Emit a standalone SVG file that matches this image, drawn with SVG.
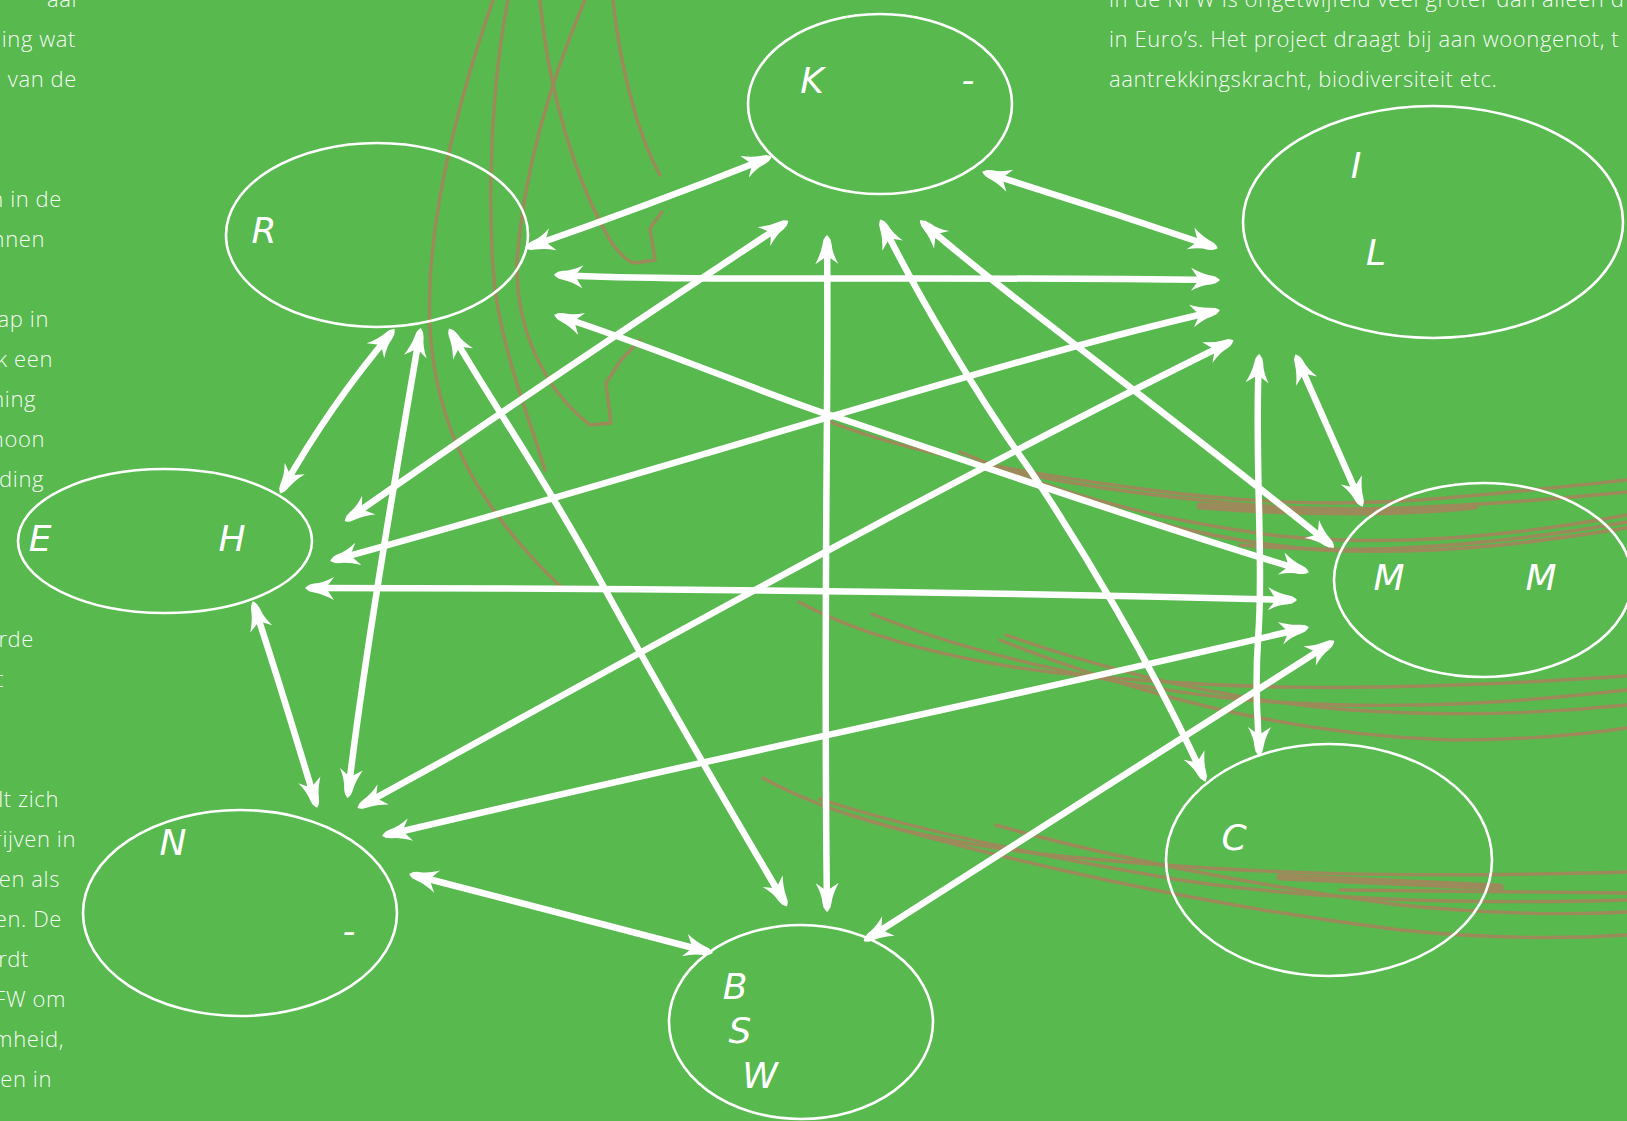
<svg xmlns="http://www.w3.org/2000/svg" width="1627" height="1121" viewBox="0 0 1627 1121">
<defs>
<style>
.bgl{fill:none;stroke:#9d8a5a;stroke-width:3.4;stroke-linecap:round;stroke-linejoin:round}
.thk{stroke-width:7}
.node{fill:none;stroke:#fff;stroke-width:2.6}
.lbl{font-family:"DejaVu Sans","Liberation Sans",sans-serif;font-style:oblique;font-weight:200;font-size:36px;fill:#fff;text-anchor:middle}
.body{font-family:"Open Sans","Noto Sans",sans-serif;font-weight:350;font-size:22px;letter-spacing:0.6px;fill:#fff;fill-opacity:.96}
.e{text-anchor:end}
.conn{fill:none;stroke:#fff;stroke-width:6.5;stroke-linecap:butt;stroke-linejoin:round;marker-start:url(#ah);marker-end:url(#ah)}
</style>
<marker id="ah" markerUnits="userSpaceOnUse" viewBox="-28 -13 32 26" markerWidth="32" markerHeight="26" refX="0" refY="0" orient="auto-start-reverse">
<path d="M4,0 Q1,-3.5 -5,-4.5 Q-14,-6 -25,-12 L-17,0 L-25,11 Q-14,5 -5,4.5 Q1,3.5 4,0 Z" fill="#fff"/>
</marker>
</defs>
<rect width="1627" height="1121" fill="#58b94f"/>

<g id="background-lines">
<path class="bgl" d="M493,0 C455,110 425,230 430,330 C436,420 470,500 560,586"/>
<path class="bgl" d="M508,0 C492,80 486,200 495,290 C505,360 530,420 545,470"/>
<path class="bgl" d="M540,0 C548,90 575,180 610,240 C620,255 628,262 635,263 L655,260 L650,228 L662,212"/>
<path class="bgl" d="M585,0 C555,70 525,160 517,260 C515,330 545,390 590,425 L611,423 L606,383 L621,360 L640,340"/>
<path class="bgl" d="M613,0 C620,70 640,140 660,175"/>

<path class="bgl" d="M825,420 C900,450 1000,470 1150,490 C1250,503 1330,506 1420,500 C1500,494 1570,486 1627,480"/>
<path class="bgl" d="M900,440 C980,468 1080,488 1200,500 C1300,512 1400,514 1627,492"/>
<path class="bgl thk" d="M1200,506 C1300,514 1400,514 1475,506"/>
<path class="bgl" d="M960,452 C1050,490 1150,520 1280,536 C1400,548 1520,535 1627,515"/>
<path class="bgl" d="M1000,470 C1100,510 1200,540 1320,550 C1450,556 1550,540 1627,528"/>
<path class="bgl" d="M1240,545 C1350,555 1480,548 1627,522"/>

<path class="bgl" d="M799,602 C860,635 950,660 1050,672 C1200,688 1350,695 1627,676"/>
<path class="bgl" d="M872,614 C960,650 1100,685 1245,700 C1400,712 1520,702 1627,690"/>
<path class="bgl" d="M1006,635 C1100,668 1220,700 1350,710 C1470,718 1560,712 1627,705"/>
<path class="bgl" d="M1000,640 C1150,700 1300,735 1450,740 C1530,740 1580,735 1627,728"/>

<path class="bgl" d="M763,778 C830,815 920,840 1050,855 C1200,870 1350,880 1627,872"/>
<path class="bgl" d="M820,799 C920,832 1050,858 1180,880 C1300,898 1450,905 1627,900"/>
<path class="bgl" d="M996,825 C1100,855 1250,885 1400,905 C1500,915 1570,915 1627,912"/>
<path class="bgl" d="M850,815 C1000,860 1200,905 1400,930 C1500,940 1580,938 1627,935"/>
<path class="bgl thk" d="M1280,877 C1380,882 1450,885 1500,887"/>
<path class="bgl" d="M1340,890 L1627,893" stroke-width="5"/>
</g>

<g id="text-left" class="body e">
<text x="77" y="7">aal</text>
<text x="76" y="47">ing wat</text>
<text x="77" y="87">van de</text>
<text x="62" y="207">n in de</text>
<text x="45" y="247">nnen</text>
<text x="49" y="327">ap in</text>
<text x="53" y="367">k een</text>
<text x="36" y="407">ning</text>
<text x="45" y="447">hoon</text>
<text x="44" y="487">ding</text>
<text x="34" y="647">rde</text>
<text x="4" y="687">t</text>
<text x="59" y="807">lt zich</text>
<text x="76" y="847">rijven in</text>
<text x="60" y="887">en als</text>
<text x="62" y="927">en. De</text>
<text x="29" y="967">rdt</text>
<text x="66" y="1007">FW om</text>
<text x="64" y="1047">mheid,</text>
<text x="52" y="1087">en in</text>
</g>

<g id="text-right" class="body">
<text x="1109" y="7">in de NFW is ongetwijfeld veel groter dan alleen d</text>
<text x="1109" y="47">in Euro’s. Het project draagt bij aan woongenot, t</text>
<text x="1109" y="87">aantrekkingskracht, biodiversiteit etc.</text>
</g>

<g id="connectors">
<path class="conn" d="M529,247 Q650,205 768,158"/>
<path class="conn" d="M986,173 Q1100,208 1214,247"/>
<path class="conn" d="M392,332 Q330,405 282,490"/>
<path class="conn" d="M254,605 Q285,700 316,804"/>
<path class="conn" d="M413,875 Q560,913 709,952"/>
<path class="conn" d="M867,939 Q1100,790 1331,643"/>
<path class="conn" d="M1297,358 L1361,503"/>
<path class="conn" d="M1259,358 C1254,450 1264,560 1258,640 C1254,700 1259,730 1259,752"/>
<path class="conn" d="M827,239 C829,400 823,600 827,908"/>
<path class="conn" d="M451,332 C490,400 540,470 600,580 S730,810 785,903"/>
<path class="conn" d="M420,332 C400,450 365,650 348,794"/>
<path class="conn" d="M882,223 C920,300 980,400 1030,470 C1080,545 1150,660 1204,778"/>
<path class="conn" d="M923,223 C1000,290 1150,400 1331,545"/>
<path class="conn" d="M558,275 C700,282 900,276 1216,280"/>
<path class="conn" d="M558,316 C650,345 780,400 830,415 C950,455 1150,525 1305,571"/>
<path class="conn" d="M785,223 C700,280 560,370 348,519"/>
<path class="conn" d="M1216,311 C1000,360 700,460 334,560"/>
<path class="conn" d="M309,588 C600,588 900,590 1293,600"/>
<path class="conn" d="M361,806 C700,620 950,480 1230,342"/>
<path class="conn" d="M386,835 C700,760 1000,700 1305,628"/>
</g>

<g id="node-K">
<ellipse class="node" cx="880" cy="104" rx="132" ry="90"/>
<text class="lbl" x="812" y="93">K</text>
<text class="lbl" x="968" y="92">-</text>
</g>
<g id="node-R">
<ellipse class="node" cx="377" cy="235" rx="151" ry="92"/>
<text class="lbl" x="264" y="243">R</text>
</g>
<g id="node-IL">
<ellipse class="node" cx="1433" cy="222" rx="190" ry="116"/>
<text class="lbl" x="1356" y="178">I</text>
<text class="lbl" x="1376" y="265">L</text>
</g>
<g id="node-MM">
<ellipse class="node" cx="1483" cy="580" rx="149" ry="97"/>
<text class="lbl" x="1389" y="590">M</text>
<text class="lbl" x="1541" y="590">M</text>
</g>
<g id="node-EH">
<ellipse class="node" cx="165" cy="541" rx="147" ry="72"/>
<text class="lbl" x="40" y="551">E</text>
<text class="lbl" x="232" y="551">H</text>
</g>
<g id="node-N">
<ellipse class="node" cx="240" cy="913" rx="157" ry="103"/>
<text class="lbl" x="173" y="855">N</text>
<text class="lbl" x="349" y="943">-</text>
</g>
<g id="node-BSW">
<ellipse class="node" cx="801" cy="1022" rx="132" ry="97"/>
<text class="lbl" x="735" y="999">B</text>
<text class="lbl" x="740" y="1043">S</text>
<text class="lbl" x="760" y="1088">W</text>
</g>
<g id="node-C">
<ellipse class="node" cx="1329" cy="860" rx="163" ry="116"/>
<text class="lbl" x="1234" y="850">C</text>
</g>
</svg>
